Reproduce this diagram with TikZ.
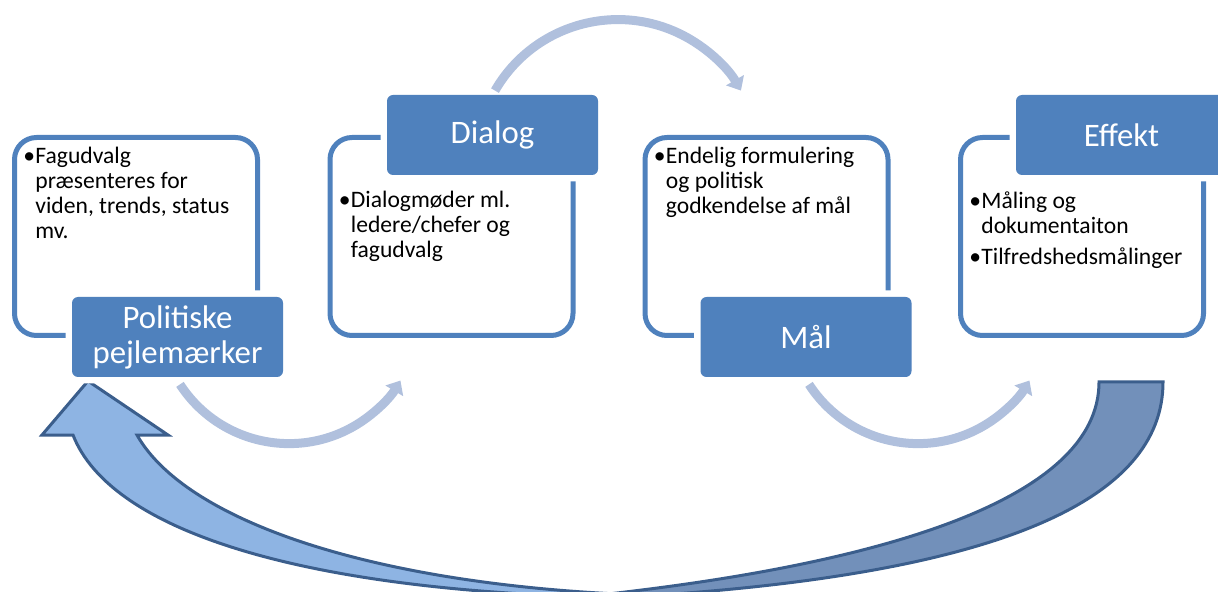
\documentclass[tikz,border=0pt]{standalone}
\usepackage{fontspec}
\setmainfont{Carlito}
\usetikzlibrary{calc,arrows.meta}
\definecolor{c0}{RGB}{79,129,189}
\definecolor{c1}{RGB}{176,192,221}
\definecolor{c2}{RGB}{142,180,227}
\definecolor{c3}{RGB}{114,144,186}
\definecolor{c4}{RGB}{59,94,140}
\tikzset{%
  card/.style={draw=c0,line width=2.5pt,fill=white,rounded corners=11pt,
    minimum width=121.5pt,minimum height=99pt,inner sep=0pt},
  tag/.style={fill=c0,text=white,rounded corners=3pt,minimum width=105.5pt,
    minimum height=40pt,inner sep=0pt,align=center,
    font=\fontsize{16.4}{17.5}\selectfont,preaction={draw=white,line width=6.5pt}},
  txt/.style={anchor=north west,inner sep=0pt,
    font=\fontsize{11.8}{12.5}\selectfont},
  flow/.style={draw=c1,line width=4.5pt,-{Triangle[length=6pt,width=10pt]}},
  back/.style={draw=c4,line width=1.5pt}
}
\newenvironment{pkt}{\begin{tabular}[t]{@{}p{6pt}@{}l@{}}}{\end{tabular}}

\begin{document}
\begin{tikzpicture}[x=0.5pt,y=0.5pt]
  \useasboundingbox (0,0) rectangle (1218,-592);
  \clip (0,0) rectangle (1218,-592);
  % return arrow
  \filldraw[back,fill=c2] (640,-598) .. controls (300,-594) and (110,-530) .. (73,-435)
    -- (42,-435) -- (88,-381) -- (168,-435) -- (137,-435)
    .. controls (185,-520) and (370,-585) .. (640,-595) -- cycle;
  \filldraw[back,fill=c3] (1099,-382) -- (1163,-382)
    .. controls (1163,-500) and (1000,-580) .. (590,-599) -- (590,-596)
    .. controls (880,-565) and (1099,-500) .. (1099,-382) -- cycle;
  % steps
  \node[card] (b1) at (136,-236.5) {};
  \node[card] (b2) at (451.5,-236.5) {};
  \node[card] (b3) at (766.5,-236.5) {};
  \node[card] (b4) at (1082,-236.5) {};
  \node[txt] (t1) at ($(b1.north west)+(11,-10.5)$) {\begin{pkt}
    •&Fagudvalg\\ &præsenteres for\\ &viden, trends, status\\ &mv.\end{pkt}};
  \node[txt] (t2) at ($(b2.north west)+(11,-54.5)$) {\begin{pkt}
    •&Dialogmøder ml.\\ &ledere/chefer og\\ &fagudvalg\end{pkt}};
  \node[txt] (t3) at ($(b3.north west)+(11,-10.5)$) {\begin{pkt}
    •&Endelig formulering\\ &og politisk\\ &godkendelse af mål\end{pkt}};
  \node[txt] (t4) at ($(b4.north west)+(11,-55.5)$) {\begin{pkt}
    •&Måling og\\ &dokumentaiton\\[3.3pt] •&Tilfredshedsmålinger\end{pkt}};
  \node[tag] (l1) at ($(b1.south)+(41.5,1)$) {Politiske\\pejlemærker};
  \node[tag] (l2) at ($(b2.north)+(41,0)$) {Dialog};
  \node[tag] (l3) at ($(b3.south)+(39.5,1)$) {Mål};
  \node[tag] (l4) at ($(b4.north)+(39.5,0)$) {Effekt};
  % flow arrows
  \draw[flow] ($(l1.south)+(2.5,-7)$) arc[start angle=213,end angle=329,radius=65pt];
  \draw[flow] ($(l2.north)+(2.5,4)$) arc[start angle=150,end angle=30,radius=71pt];
  \draw[flow] ($(l3.south)+(3,-7)$) arc[start angle=213,end angle=329,radius=65pt];
\end{tikzpicture}
\end{document}
